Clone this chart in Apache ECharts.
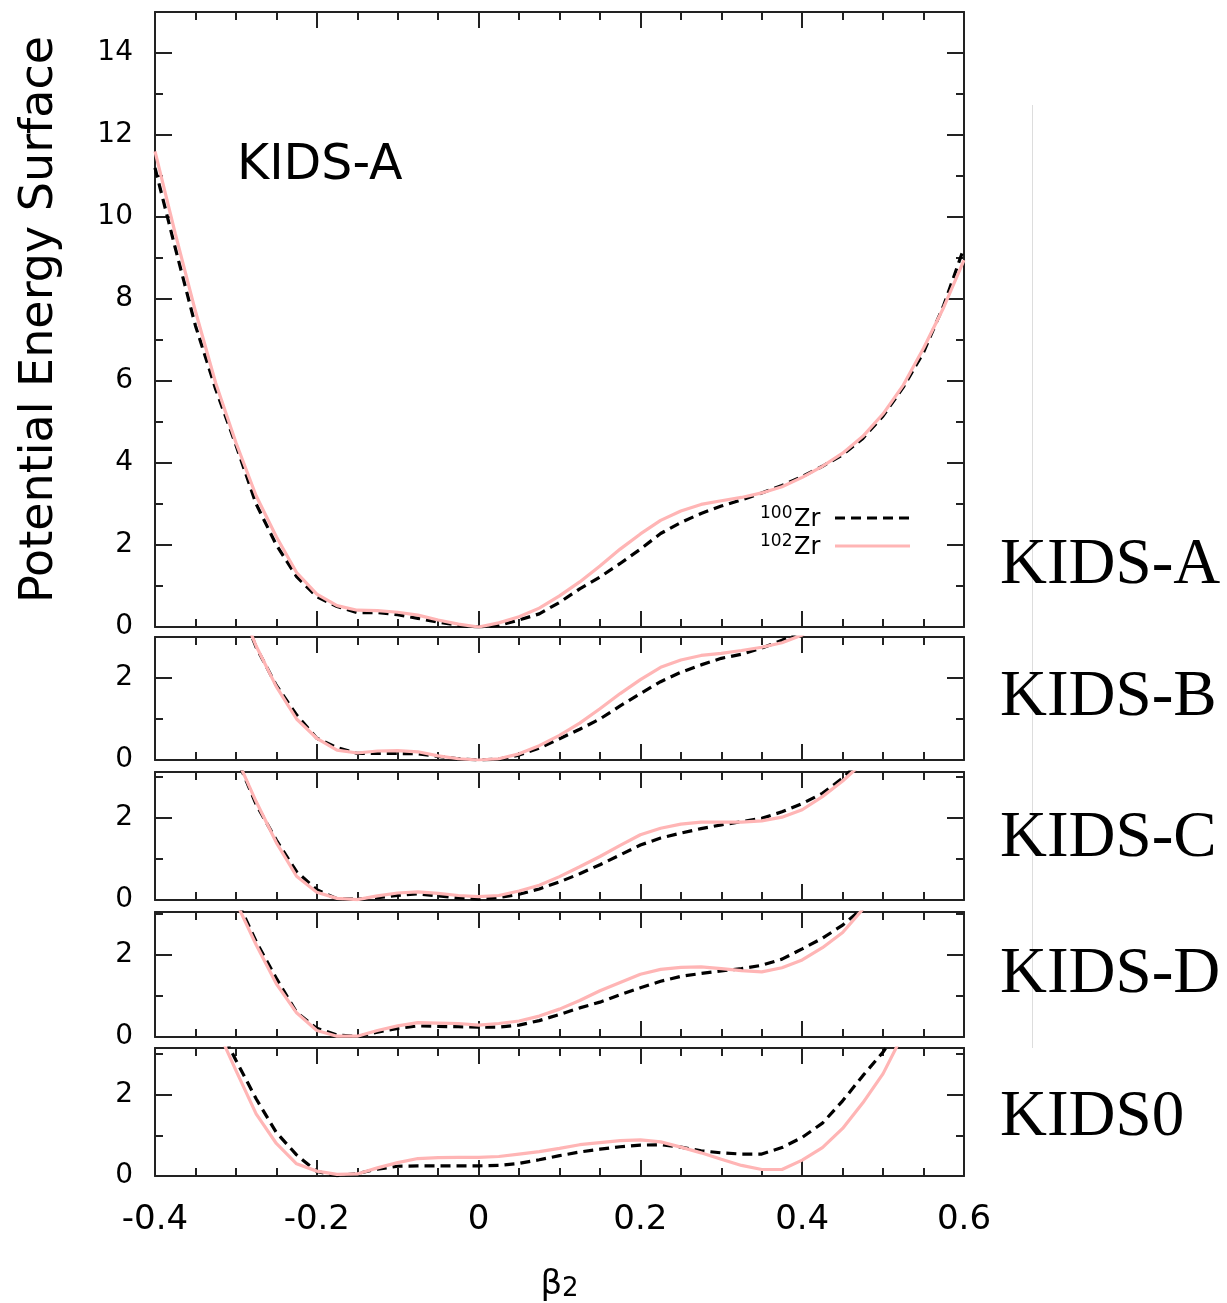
<!DOCTYPE html>
<html><head><meta charset="utf-8">
<script src="https://cdn.jsdelivr.net/npm/echarts@6/dist/echarts.min.js"></script>
<style>html,body{margin:0;padding:0;background:#fff}#c{width:1227px;height:1303px}</style>
</head><body><div id="c"></div>
<script>
// beta_2 sampling points
const beta = [-0.4,-0.375,-0.35,-0.325,-0.3,-0.275,-0.25,-0.225,-0.2,-0.175,-0.15,-0.125,-0.1,-0.075,-0.05,-0.025,0,0.025,0.05,0.075,0.1,0.125,0.15,0.175,0.2,0.225,0.25,0.275,0.3,0.325,0.35,0.375,0.4,0.425,0.45,0.475,0.5,0.525,0.55,0.575,0.6];

const kidsA_100 = [11.2,9.25,7.35,5.8,4.44,3.0,2.0,1.23,0.74,0.5,0.35,0.35,0.3,0.21,0.12,0.04,0,0.04,0.17,0.32,0.6,0.93,1.22,1.55,1.9,2.28,2.55,2.77,2.95,3.1,3.27,3.45,3.67,3.92,4.2,4.6,5.15,5.85,6.7,7.85,9.25];
const kidsA_102 = [11.6,9.6,7.7,5.95,4.5,3.2,2.2,1.33,0.8,0.52,0.41,0.40,0.36,0.29,0.17,0.07,0,0.1,0.25,0.46,0.76,1.1,1.49,1.9,2.27,2.6,2.83,2.99,3.08,3.16,3.27,3.42,3.65,3.92,4.24,4.65,5.2,5.9,6.8,7.8,8.95];
const kidsB_100 = [11.2,9.2,7.3,5.7,4.0,2.75,1.82,1.1,0.53,0.3,0.16,0.16,0.16,0.15,0.09,0.03,0,0.02,0.12,0.29,0.52,0.75,1.0,1.32,1.62,1.91,2.14,2.32,2.48,2.58,2.73,2.92,3.15,3.5,3.9,4.4,5.0,5.7,6.6,7.7,9.0];
const kidsB_102 = [11.6,9.4,7.4,5.6,4.0,2.78,1.79,1.0,0.53,0.24,0.17,0.22,0.23,0.2,0.1,0.03,0,0.03,0.15,0.35,0.6,0.9,1.25,1.62,1.96,2.26,2.44,2.55,2.6,2.67,2.75,2.86,3.05,3.4,3.8,4.3,4.9,5.6,6.5,7.5,8.7];
const kidsC_100 = [11.2,9.1,7.1,5.2,3.5,2.33,1.46,0.69,0.25,0.03,0.02,0.06,0.11,0.15,0.1,0.05,0.02,0.06,0.14,0.27,0.44,0.64,0.86,1.1,1.34,1.51,1.63,1.74,1.83,1.91,1.99,2.15,2.35,2.6,2.97,3.45,4.0,4.7,5.5,6.5,7.6];
const kidsC_102 = [11.6,9.3,7.2,5.3,3.5,2.4,1.4,0.58,0.19,0.04,0.01,0.1,0.17,0.2,0.16,0.11,0.08,0.11,0.22,0.36,0.57,0.81,1.06,1.33,1.59,1.75,1.85,1.9,1.9,1.9,1.93,2.02,2.2,2.52,2.9,3.35,3.9,4.6,5.4,6.3,7.4];
const kidsD_100 = [11.2,9.1,7.1,5.2,3.4,2.33,1.43,0.6,0.21,0.05,0.01,0.12,0.21,0.27,0.26,0.25,0.24,0.24,0.29,0.4,0.55,0.71,0.85,1.03,1.2,1.36,1.48,1.55,1.61,1.67,1.75,1.9,2.15,2.41,2.73,3.15,3.6,4.2,5.0,6.0,7.2];
const kidsD_102 = [11.6,9.3,7.2,5.2,3.3,2.25,1.3,0.59,0.16,0.02,0.02,0.16,0.27,0.35,0.34,0.33,0.29,0.33,0.39,0.51,0.68,0.89,1.13,1.33,1.53,1.65,1.7,1.71,1.67,1.62,1.59,1.69,1.88,2.18,2.55,3.12,3.7,4.4,5.2,6.2,7.3];
const kids0_100 = [8.6,6.8,5.2,3.85,2.85,1.9,1.07,0.52,0.11,0.01,0.06,0.17,0.24,0.25,0.25,0.25,0.25,0.26,0.31,0.4,0.5,0.59,0.66,0.72,0.76,0.77,0.71,0.62,0.57,0.54,0.54,0.7,0.95,1.3,1.85,2.47,3.05,3.8,4.7,5.8,7.0];
const kids0_102 = [8.2,6.5,5.0,3.7,2.6,1.53,0.8,0.3,0.12,0.04,0.05,0.2,0.33,0.43,0.45,0.46,0.46,0.48,0.54,0.6,0.68,0.77,0.82,0.87,0.89,0.84,0.71,0.57,0.41,0.26,0.16,0.16,0.39,0.7,1.17,1.8,2.52,3.5,4.6,5.9,7.3];

const panelLabels = ['KIDS-A','KIDS-B','KIDS-C','KIDS-D','KIDS0'];
const seriesNames = ['100Zr','102Zr'];
const massNumbers = ['100','102'];
const xTickLabels = ['-0.4','-0.2','0','0.2','0.4','0.6'];
const data100 = [kidsA_100,kidsB_100,kidsC_100,kidsD_100,kids0_100];
const data102 = [kidsA_102,kidsB_102,kidsC_102,kidsD_102,kids0_102];

// layout (pixels)
const layout = [
  {top:12,  height:615, ymax:15},
  {top:637, height:123, ymax:3},
  {top:772, height:128, ymax:3.12},
  {top:912, height:125, ymax:3.05},
  {top:1048,height:129, ymax:3.15}
];
const labelY = [566, 698, 839, 975, 1118];

const SANS = 'DejaVu Sans';
const AX = '#222';
const BLACK_DASH = [10,6];
const PINK = '#ffb5b5';
const grid=[], xAxis=[], yAxis=[], series=[];
layout.forEach((p,i)=>{
  grid.push({left:155, width:809, top:p.top, height:p.height});
  const last = i===layout.length-1;
  const xBase = xAxis.length;
  ['bottom','top'].forEach(pos=>{
    const showLab = last && pos==='bottom';
    xAxis.push({
      gridIndex:i, type:'value', min:-0.4, max:0.6, interval:0.2, position:pos,
      axisLine:{show:true, onZero:false, lineStyle:{color:AX, width:2}},
      axisTick:{show:true, inside:true, length:16, lineStyle:{color:AX, width:2}},
      splitLine:{show:false},
      axisLabel:{show: showLab, margin:27, fontSize:34, color:'#000', fontFamily:SANS,
        formatter: v => { const k = Math.round((v+0.4)/0.2); return xTickLabels[k] !== undefined ? xTickLabels[k] : ''; }},
      name: showLab ? '{b|β}{s|2}' : '',
      nameLocation:'middle', nameGap:86,
      nameTextStyle:{color:'#000', fontFamily:SANS,
        rich:{b:{fontSize:34, fontFamily:SANS, color:'#000', lineHeight:40, verticalAlign:'bottom'},
              s:{fontSize:26, fontFamily:SANS, color:'#000', lineHeight:30, verticalAlign:'bottom'}}}
    });
    xAxis.push({
      gridIndex:i, type:'value', min:-0.4, max:0.6, interval:0.05, position:pos,
      axisLine:{show:false, onZero:false},
      axisTick:{show:true, inside:true, length:8, lineStyle:{color:AX, width:2}},
      splitLine:{show:false}, axisLabel:{show:false}
    });
  });
  const yBase = yAxis.length;
  ['left','right'].forEach(pos=>{
    yAxis.push({
      gridIndex:i, type:'value', min:0, max:p.ymax, interval:2, position:pos,
      axisLine:{show:true, onZero:false, lineStyle:{color:AX, width:2}},
      axisTick:{show:true, inside:true, length:17, lineStyle:{color:AX, width:2}},
      splitLine:{show:false},
      axisLabel:{show: pos==='left', margin:22, fontSize:28, color:'#000', fontFamily:SANS,
        formatter: v => (Math.abs(v - Math.round(v))<1e-9 && Math.round(v)%2===0) ? String(Math.round(v)) : ''},
      name: (i===0 && pos==='left') ? 'Potential Energy Surface' : '',
      nameLocation:'middle', nameGap:92,
      nameTextStyle:{fontSize:46, color:'#000', fontFamily:SANS}
    });
    yAxis.push({
      gridIndex:i, type:'value', min:0, max:p.ymax, interval:1, position:pos,
      axisLine:{show:false, onZero:false},
      axisTick:{show:true, inside:true, length:8, lineStyle:{color:AX, width:2}},
      splitLine:{show:false}, axisLabel:{show:false}
    });
  });
  series.push({
    type:'line', name:seriesNames[0], xAxisIndex:xBase, yAxisIndex:yBase,
    data: beta.map((b,k)=>[b, data100[i][k]]),
    symbol:'none', showSymbol:false, clip:true, z:2,
    lineStyle:{color:'#000', width:3.2, type:BLACK_DASH}, itemStyle:{color:'#000'}
  });
  series.push({
    type:'line', name:seriesNames[1], xAxisIndex:xBase, yAxisIndex:yBase,
    data: beta.map((b,k)=>[b, data102[i][k]]),
    symbol:'none', showSymbol:false, clip:true, z:3,
    lineStyle:{color:PINK, width:3.2}, itemStyle:{color:PINK}
  });
});

const graphic = [
  {type:'text', left:237, top:142, style:{text:panelLabels[0], font:'49px "DejaVu Sans"', fill:'#000'}},
  {type:'line', shape:{x1:1032.5,y1:105,x2:1032.5,y2:1048}, style:{stroke:'#dddddd', lineWidth:1}}
];
panelLabels.forEach((t,i)=>{
  graphic.push({type:'text', x:1000, y:labelY[i], style:{text:t, font:'65px "Liberation Serif"', fill:'#000', textVerticalAlign:'middle', textAlign:'left'}});
});
// key (legend) for the two nuclei
const keyRows = [518, 546];
massNumbers.forEach((m,r)=>{
  const y = keyRows[r];
  graphic.push({type:'text', x:760, y:y-4, z:10, style:{text:m, font:'17px "DejaVu Sans"', fill:'#000', textVerticalAlign:'middle', textAlign:'left'}});
  graphic.push({type:'text', x:794, y:y+2, z:10, style:{text:'Zr', font:'24px "DejaVu Sans"', fill:'#000', textVerticalAlign:'middle', textAlign:'left'}});
  graphic.push({type:'line', z:10, shape:{x1:835, y1:y, x2:910, y2:y},
    style: r===0 ? {stroke:'#000', lineWidth:3.2, lineDash:BLACK_DASH} : {stroke:PINK, lineWidth:3.2}});
});

const chart = echarts.init(document.getElementById('c'), null, {renderer:'canvas'});
chart.setOption({
  animation:false,
  backgroundColor:'#fff',
  grid, xAxis, yAxis, series, graphic
});
</script></body></html>
